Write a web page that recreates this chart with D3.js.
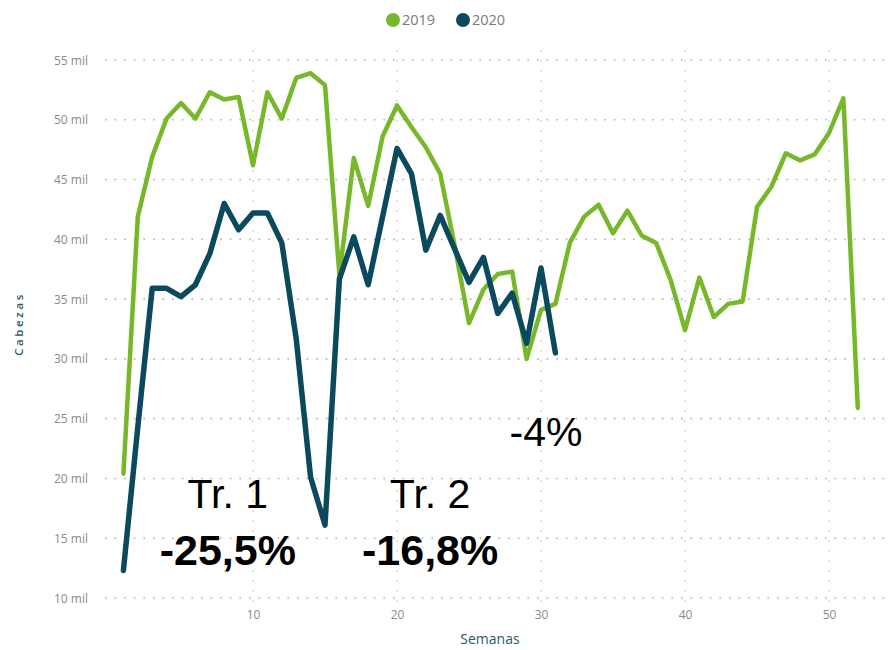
<!DOCTYPE html>
<html>
<head>
<meta charset="utf-8">
<script src="https://cdn.jsdelivr.net/npm/d3@7"></script>
<style>
  body { margin: 0; background: #fff; }
  svg { display: block; }
</style>
</head>
<body>
<svg id="chart" width="892" height="650"></svg>
<script>
const weeks2019 = d3.range(1, 53);
const values2019 = [20.4, 41.9, 46.9, 50.1, 51.4, 50.1, 52.3, 51.7, 51.9, 46.2,
  52.3, 50.1, 53.5, 53.9, 52.9, 37.0, 46.8, 42.8, 48.6, 51.2,
  49.4, 47.7, 45.5, 39.5, 33.0, 35.8, 37.1, 37.3, 30.0, 34.1,
  34.6, 39.7, 41.9, 42.9, 40.5, 42.4, 40.3, 39.7, 36.6, 32.4,
  36.8, 33.5, 34.6, 34.8, 42.7, 44.4, 47.2, 46.6, 47.1, 48.9,
  51.8, 25.9];
const weeks2020 = d3.range(1, 32);
const values2020 = [12.3, 24.3, 35.9, 35.9, 35.2, 36.2, 38.8, 43.0, 40.8, 42.2,
  42.2, 39.7, 31.7, 20.1, 16.1, 36.7, 40.2, 36.2, 41.9, 47.6,
  45.5, 39.1, 42.0, 39.2, 36.4, 38.5, 33.8, 35.5, 31.3, 37.6,
  30.5];
const yTicks = [10, 15, 20, 25, 30, 35, 40, 45, 50, 55];
const xTicks = [10, 20, 30, 40, 50];
const seriesNames = ["2019", "2020"];
const seriesColors = ["#76b82a", "#0b4a5e"];
const annotations = [
  {text: "Tr. 1", x: 8.25, y: 17.5, bold: false},
  {text: "-25,5%", x: 8.25, y: 12.8, bold: true},
  {text: "Tr. 2", x: 22.3, y: 17.5, bold: false},
  {text: "-16,8%", x: 22.3, y: 12.8, bold: true},
  {text: "-4%", x: 30.35, y: 22.75, bold: false}
];

const svg = d3.select("#chart");
const x = d3.scaleLinear().domain([1, 52]).range([123.4, 857.8]);
const y = d3.scaleLinear().domain([10, 55]).range([598, 60]);

// horizontal gridlines
svg.append("g").selectAll("line").data(yTicks).join("line")
  .attr("x1", 105).attr("x2", 892)
  .attr("y1", d => y(d)).attr("y2", d => y(d))
  .attr("stroke", "#b5b5b5").attr("stroke-width", 1.6)
  .attr("stroke-dasharray", "1.6,8");
// vertical gridlines
svg.append("g").selectAll("line").data(xTicks).join("line")
  .attr("x1", d => x(d)).attr("x2", d => x(d))
  .attr("y1", 50).attr("y2", 602)
  .attr("stroke", "#d0d0d0").attr("stroke-width", 1.2)
  .attr("stroke-dasharray", "2,8");

// y axis labels
const yAxis = d3.axisLeft(y).tickValues(yTicks).tickSize(0).tickPadding(0)
  .tickFormat(d => d + " mil");
svg.append("g").attr("transform", "translate(88,0)").call(yAxis)
  .call(g => g.select(".domain").remove())
  .selectAll("text")
  .attr("fill", "#8a8a8a").attr("font-family", "'Open Sans', sans-serif")
  .attr("font-size", 12).attr("dy", "0.34em");

// x axis labels
const xAxis = d3.axisBottom(x).tickValues(xTicks).tickSize(0).tickPadding(0);
svg.append("g").attr("transform", "translate(0,610)").call(xAxis)
  .call(g => g.select(".domain").remove())
  .selectAll("text")
  .attr("fill", "#8a8a8a").attr("font-family", "'Open Sans', sans-serif")
  .attr("font-size", 12).attr("dy", "0.71em");

// axis titles
svg.append("text").attr("x", 490).attr("y", 644).attr("text-anchor", "middle")
  .attr("fill", "#2b5a6e").attr("font-family", "'Open Sans', sans-serif")
  .attr("font-size", 14).text("Semanas");
svg.append("text").attr("transform", "translate(23,324) rotate(-90)")
  .attr("text-anchor", "middle").attr("fill", "#2b5a6e")
  .attr("font-family", "'Open Sans', sans-serif").attr("font-size", 11.5)
  .attr("letter-spacing", "2.6px").attr("font-weight", "600").text("Cabezas");

// lines
const line = d3.line().x(d => x(d[0])).y(d => y(d[1])).curve(d3.curveLinear);
const d2019 = weeks2019.map((w, i) => [w, values2019[i]]);
const d2020 = weeks2020.map((w, i) => [w, values2020[i]]);
svg.append("path").datum(d2019).attr("d", line).attr("fill", "none")
  .attr("stroke", seriesColors[0]).attr("stroke-width", 4.5)
  .attr("stroke-linejoin", "round").attr("stroke-linecap", "round");
svg.append("path").datum(d2020).attr("d", line).attr("fill", "none")
  .attr("stroke", seriesColors[1]).attr("stroke-width", 5.5)
  .attr("stroke-linejoin", "round").attr("stroke-linecap", "round");

// legend
const legendX = [393, 463];
seriesNames.forEach((name, i) => {
  svg.append("circle").attr("cx", legendX[i]).attr("cy", 20).attr("r", 7)
    .attr("fill", seriesColors[i]);
  svg.append("text").attr("x", legendX[i] + 9).attr("y", 25)
    .attr("fill", "#7a7a7a").attr("font-family", "'Open Sans', sans-serif")
    .attr("font-size", 14.5).text(name);
});

// annotations
svg.append("g").selectAll("text").data(annotations).join("text")
  .attr("x", d => x(d.x)).attr("y", d => y(d.y))
  .attr("text-anchor", "middle")
  .attr("font-family", "'Liberation Sans', Arial, sans-serif")
  .attr("font-size", d => d.bold ? 43 : 41)
  .attr("font-weight", d => d.bold ? "bold" : "normal")
  .attr("fill", "#000")
  .text(d => d.text);
</script>
</body>
</html>
